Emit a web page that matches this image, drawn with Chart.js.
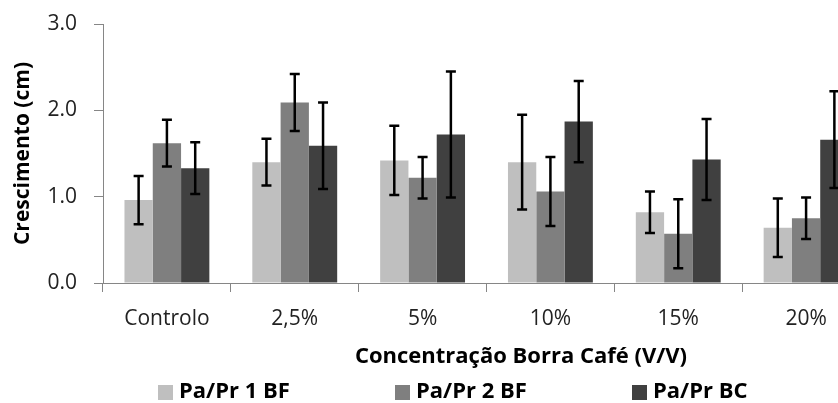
<!DOCTYPE html>
<html lang="pt">
<head>
    <meta charset="UTF-8">
    <title>Crescimento</title>
    <style>
        body {
            margin: 0;
            background-color: #ffffff;
        }

        .main {
            width: 838px;
            height: 403px;
            overflow: hidden;
        }
    </style>
    <script src="https://cdn.jsdelivr.net/npm/chart.js"></script>
</head>
<body>

    <div class="main">
        <canvas id="myChart" width="880" height="403"></canvas>
    </div>

<script>
    // カテゴリ
    const labels = ['Controlo', '2,5%', '5%', '10%', '15%', '20%'];
    const seriesNames = ['Pa/Pr 1 BF', 'Pa/Pr 2 BF', 'Pa/Pr BC'];
    const yTickLabels = ['0.0', '1.0', '2.0', '3.0'];

    // 平均値
    const pa1 = [0.96, 1.40, 1.42, 1.40, 0.82, 0.64];
    const pa2 = [1.62, 2.09, 1.22, 1.06, 0.57, 0.75];
    const paBC = [1.33, 1.59, 1.72, 1.87, 1.43, 1.66];

    // 誤差
    const err1 = [0.28, 0.27, 0.40, 0.55, 0.24, 0.34];
    const err2 = [0.27, 0.33, 0.24, 0.40, 0.40, 0.24];
    const errBC = [0.30, 0.50, 0.73, 0.47, 0.47, 0.56];

    const colors = ['#bfbfbf', '#7f7f7f', '#404040'];

    // エラーバー描画
    const errorBars = {
        id: 'errorBars',
        afterDatasetsDraw(chart) {
            const ctx = chart.ctx;
            const y = chart.scales.y;
            chart.data.datasets.forEach((ds, i) => {
                chart.getDatasetMeta(i).data.forEach((bar, j) => {
                    const top = y.getPixelForValue(ds.data[j] + ds.errors[j]);
                    const bot = y.getPixelForValue(ds.data[j] - ds.errors[j]);
                    ctx.save();
                    ctx.strokeStyle = '#000000';
                    ctx.lineWidth = 2.5;
                    ctx.beginPath();
                    ctx.moveTo(bar.x, top);
                    ctx.lineTo(bar.x, bot);
                    ctx.moveTo(bar.x - 5, top);
                    ctx.lineTo(bar.x + 5, top);
                    ctx.moveTo(bar.x - 5, bot);
                    ctx.lineTo(bar.x + 5, bot);
                    ctx.stroke();
                    ctx.restore();
                });
            });
        }
    };

    // 軸タイトルと凡例
    const captions = {
        id: 'captions',
        afterDraw(chart) {
            const ctx = chart.ctx;
            ctx.save();
            ctx.fillStyle = '#000000';
            ctx.font = 'bold 22px "Open Sans"';
            ctx.textAlign = 'center';
            ctx.textBaseline = 'middle';
            ctx.fillText('Concentração Borra Café (V/V)', 521, 357);

            ctx.textAlign = 'left';
            chart.data.datasets.forEach((ds, i) => {
                const x = 158 + i * 237;
                ctx.fillStyle = ds.backgroundColor;
                ctx.fillRect(x, 385, 15, 15);
                ctx.fillStyle = '#000000';
                ctx.fillText(ds.label, x + 21, 392);
            });
            ctx.restore();
        }
    };

    const data = {
        labels: labels,
        datasets: [
            { label: seriesNames[0], data: pa1, errors: err1, backgroundColor: colors[0] },
            { label: seriesNames[1], data: pa2, errors: err2, backgroundColor: colors[1] },
            { label: seriesNames[2], data: paBC, errors: errBC, backgroundColor: colors[2] }
        ]
    };

    const config = {
        type: 'bar',
        data: data,
        plugins: [errorBars, captions],
        options: {
            responsive: false,
            animation: false,
            devicePixelRatio: 1,
            layout: {
                padding: { left: 0, right: 10, top: 24, bottom: 60 }
            },
            datasets: {
                bar: {
                    barPercentage: 1,
                    categoryPercentage: 0.664,
                    borderWidth: 0
                }
            },
            plugins: {
                legend: { display: false },
                tooltip: { enabled: false }
            },
            scales: {
                x: {
                    afterFit(s) { s.height = 60; },
                    border: { display: true, color: '#868686', width: 1 },
                    grid: {
                        display: true,
                        drawOnChartArea: false,
                        tickLength: 9,
                        tickColor: '#868686'
                    },
                    ticks: {
                        padding: 14,
                        color: '#222222',
                        font: { family: '"Open Sans"', size: 21 }
                    }
                },
                y: {
                    min: 0,
                    max: 3,
                    afterFit(s) {
                        s.width = 103;
                        s.paddingTop = 0;
                        s.paddingBottom = 0;
                    },
                    border: { display: true, color: '#868686', width: 1 },
                    grid: {
                        display: true,
                        drawOnChartArea: false,
                        tickLength: 9,
                        tickColor: '#868686'
                    },
                    ticks: {
                        stepSize: 1,
                        padding: 17,
                        color: '#222222',
                        font: { family: '"Open Sans"', size: 21 },
                        callback: (v, i) => yTickLabels[i]
                    },
                    title: {
                        display: true,
                        text: 'Crescimento (cm)',
                        color: '#000000',
                        font: { family: '"Open Sans"', size: 21, weight: 'bold' },
                        padding: { top: 10, bottom: 0 }
                    }
                }
            }
        }
    };

    const myChart = new Chart(
        document.getElementById('myChart'),
        config
    );
</script>

</body>
</html>
